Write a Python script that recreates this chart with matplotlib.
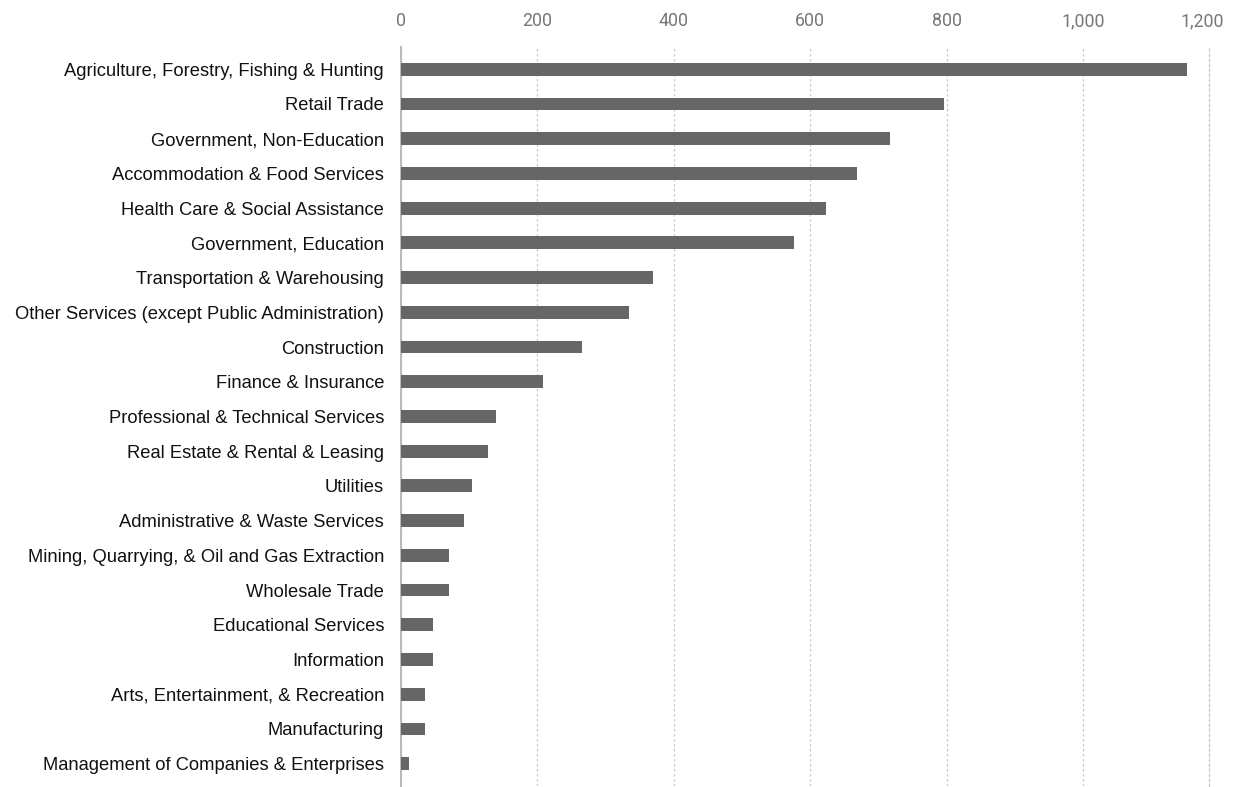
import matplotlib.pyplot as plt
import numpy as np

industries = [
    "Agriculture, Forestry, Fishing & Hunting",
    "Retail Trade",
    "Government, Non-Education",
    "Accommodation & Food Services",
    "Health Care & Social Assistance",
    "Government, Education",
    "Transportation & Warehousing",
    "Other Services (except Public Administration)",
    "Construction",
    "Finance & Insurance",
    "Professional & Technical Services",
    "Real Estate & Rental & Leasing",
    "Utilities",
    "Administrative & Waste Services",
    "Mining, Quarrying, & Oil and Gas Extraction",
    "Wholesale Trade",
    "Educational Services",
    "Information",
    "Arts, Entertainment, & Recreation",
    "Manufacturing",
    "Management of Companies & Enterprises",
]
values = [1152, 796, 716, 668, 623, 576, 370, 335, 266, 209, 139,
          128, 105, 93, 71, 71, 47, 47, 35, 35, 12]
tick_values = [0, 200, 400, 600, 800, 1000]
last_tick = "1,200"

fig = plt.figure(figsize=(12.35, 7.87), dpi=100)
ax = fig.add_axes([0.3245, 0.001, 0.6545, 0.9397])

y = np.arange(len(industries))
ax.barh(y, values, height=0.37, color="#666666", zorder=3)

ax.set_ylim(len(industries) - 0.35, -0.65)
ax.set_xlim(0, 1184)
ax.set_yticks(y)
ax.set_yticklabels(industries, fontsize=13.2, family="Liberation Sans", color="#111111")
ax.set_xticks(tick_values)
ax.set_xticklabels([f"{v:,}" for v in tick_values], fontsize=12.8,
                   family="Roboto", color="#777777")
ax.xaxis.tick_top()
ax.tick_params(axis="x", length=0, pad=12)
ax.tick_params(axis="y", length=0, pad=12)

ax.grid(axis="x", color="#c8c8c8", linestyle=(0, (2, 2)), linewidth=0.9, zorder=0)
for s in ["top", "bottom"]:
    ax.spines[s].set_visible(False)
ax.spines["left"].set_color("#bbbbbb")
ax.spines["left"].set_linewidth(1.5)
ax.spines["right"].set_color("#c8c8c8")
ax.spines["right"].set_linestyle((0, (2, 2)))
ax.spines["right"].set_linewidth(0.9)

ax.annotate(last_tick, xy=(1.0, 1.0), xycoords="axes fraction",
            xytext=(-5, 12), textcoords="offset points", ha="center", va="bottom",
            fontsize=12.8, family="Roboto", color="#777777")

fig.savefig("out.png", dpi=100)
